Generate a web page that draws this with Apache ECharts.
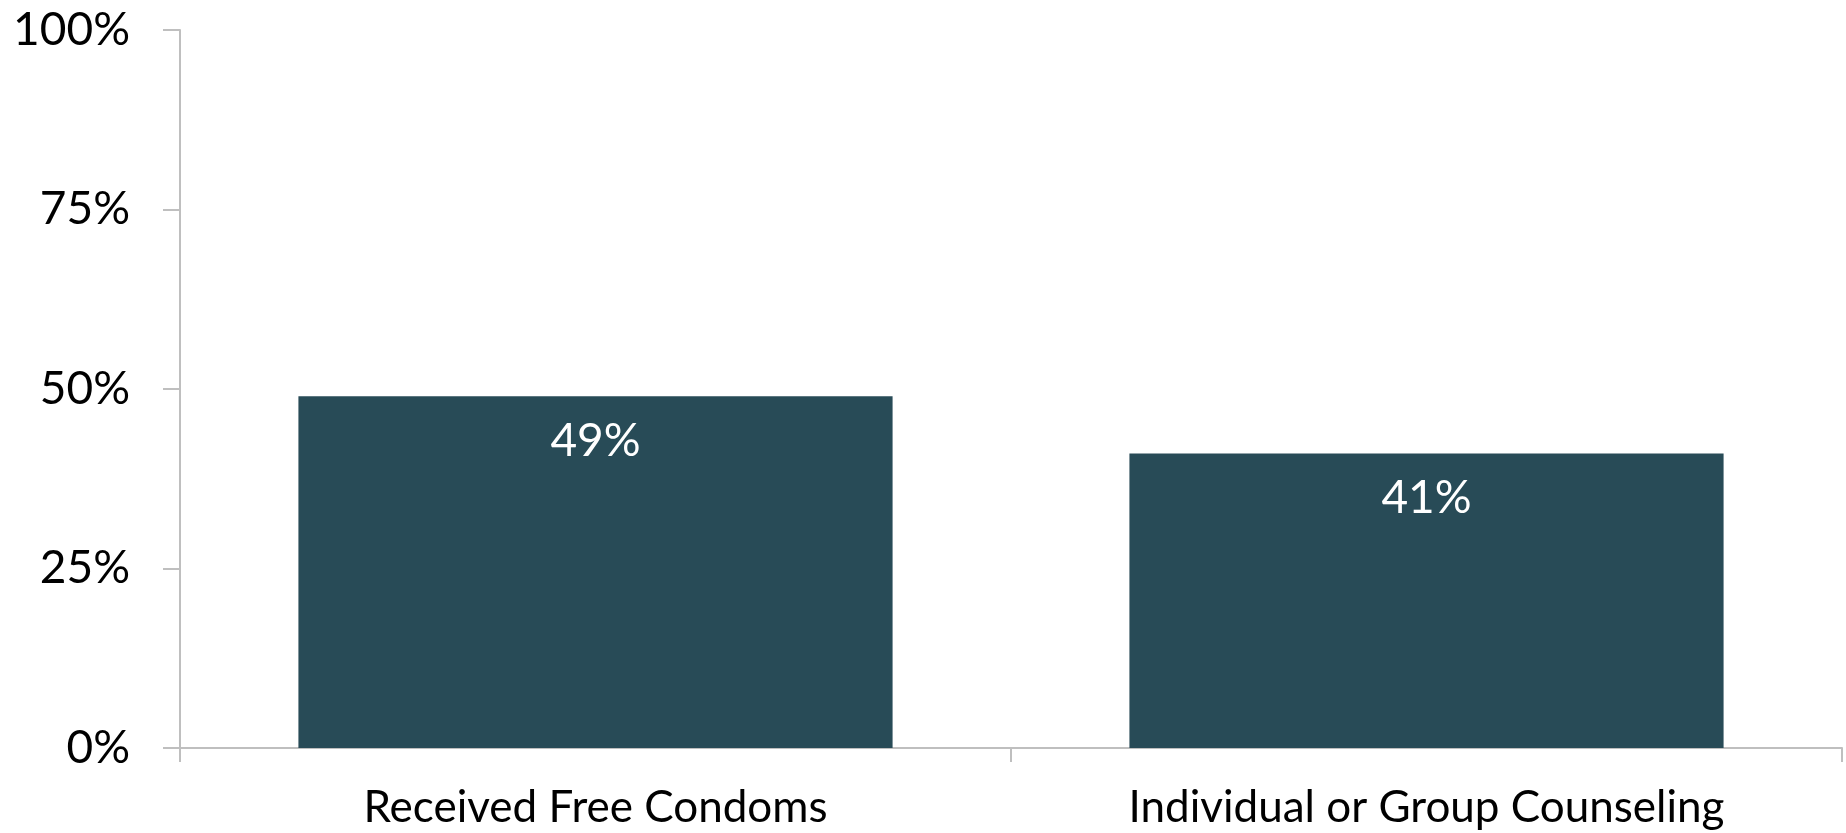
<!DOCTYPE html>
<html>
<head>
<meta charset="utf-8">
<script src="https://cdn.jsdelivr.net/npm/echarts@6/dist/echarts.min.js"></script>
<style>
html,body{margin:0;padding:0;background:#fff;}
#c{width:1846px;height:833px;}
</style>
</head>
<body>
<div id="c"></div>
<script>
const categories = ["Received Free Condoms", "Individual or Group Counseling"];
const values = [49, 41];
const yTicks = [0, 25, 50, 75, 100];

const chart = echarts.init(document.getElementById('c'));
chart.setOption({
  animation: false,
  grid: {left: 180, right: 4, top: 30, bottom: 85, containLabel: false},
  xAxis: {
    type: 'category',
    data: categories,
    axisLine: {show: true, lineStyle: {color: '#BFBFBF', width: 2}},
    axisTick: {show: true, length: 14, lineStyle: {color: '#BFBFBF', width: 2}},
    axisLabel: {color: '#000', fontFamily: 'Lato', fontSize: 44, margin: 38}
  },
  yAxis: {
    type: 'value',
    min: yTicks[0], max: yTicks[yTicks.length-1], interval: 25,
    splitLine: {show: false},
    axisLine: {show: true, lineStyle: {color: '#BFBFBF', width: 2}},
    axisTick: {show: true, length: 17, lineStyle: {color: '#BFBFBF', width: 2}},
    axisLabel: {color: '#000', fontFamily: 'Lato', fontSize: 46, margin: 50,
      formatter: v => v + '%'}
  },
  series: [{
    type: 'bar',
    data: values,
    barCategoryGap: '28.5%',
    itemStyle: {color: '#284B57'},
    label: {show: true, position: 'insideTop', distance: 22, color: '#fff',
      fontFamily: 'Lato', fontSize: 46, formatter: p => p.value + '%'}
  }]
});
</script>
</body>
</html>
